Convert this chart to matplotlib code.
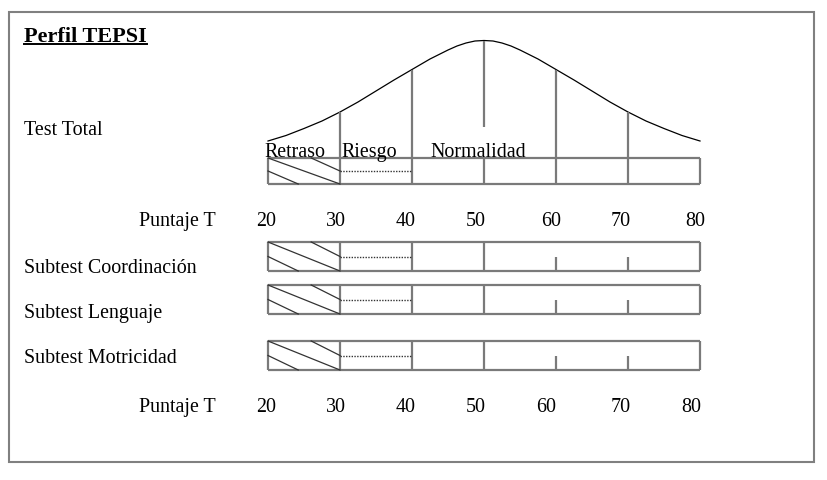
import numpy as np
import matplotlib.pyplot as plt

plt.rcParams['font.family'] = ['Liberation Serif', 'DejaVu Serif']

# puntaje T scale
t_scores = [20, 30, 40, 50, 60, 70, 80]
zone_names = ["Retraso", "Riesgo", "Normalidad"]
zone_label_t = [19.45, 30.15, 42.5]
subtests = ["Subtest Coordinación", "Subtest Lenguaje", "Subtest Motricidad"]

# bell curve (height above the base line, px)
curve_t = [20, 22.5, 25, 27.5, 30, 32.5, 35, 37.5, 40, 42.5, 45, 46.25, 47.5, 48.75, 50,
           51.25, 52.5, 53.75, 55, 57.5, 60, 62.5, 65, 67.5, 70, 72.5, 75, 77.5, 80]
curve_h = [8, 13.5, 20.5, 28, 37, 47, 58, 69, 79.5, 90, 99, 103, 106, 108, 108.5,
           108, 106, 103, 99, 90, 79.5, 69, 58, 47, 37, 28, 20.5, 13.5, 8]

W, H = 827, 481
PX_PER_T = 7.2
X0 = 268  # pixel of T=20


def tx(px):
    return 20 + (px - X0) / PX_PER_T


GRAY = '#7a7a7a'
DARK = '#333333'


def draw_bar(ax, top, bottom, full_lines=True):
    mid = (top + bottom) / 2
    ax.hlines([top, bottom], t_scores[0], t_scores[-1], color=GRAY, lw=1.6)
    for t in t_scores:
        if full_lines or t in (20, 30, 40, 50, 80):
            ax.vlines(t, top, bottom, color=GRAY, lw=1.6)
        else:
            ax.vlines(t, mid, bottom, color=GRAY, lw=1.6)
    # hatching in Retraso cell
    h = bottom - top
    ax.plot([20, 30], [top, bottom], color=DARK, lw=0.9)
    ax.plot([20, 24.2], [top + h / 2, bottom], color=DARK, lw=0.9)
    ax.plot([26.0, 30], [top, top + h / 2], color=DARK, lw=0.9)
    # dotted line in Riesgo cell
    ax.plot([30, 40], [mid, mid], color=DARK, lw=1.0, ls=(0, (1, 1)))


def main():
    fig = plt.figure(figsize=(W / 100, H / 100), dpi=100)
    ax = fig.add_axes([0, 0, 1, 1])
    ax.set_xlim(tx(0), tx(W))
    ax.set_ylim(H, 0)
    ax.axis('off')

    # frame
    ax.add_patch(plt.Rectangle((tx(9), 13), tx(814) - tx(9), 450,
                               fill=False, ec='#808080', lw=1.5))

    title = ax.text(tx(24), 42, "Perfil TEPSI", fontsize=16, fontweight='bold',
                    va='baseline', ha='left')

    ax.text(tx(24), 135, "Test Total", fontsize=14.4, va='baseline')

    # bell curve
    base = 150
    curve_y = [base - h for h in curve_h]
    ax.plot(curve_t, curve_y, color='black', lw=0.9)

    top_bar = (159, 185)
    for t in (30, 40, 60, 70):
        ax.vlines(t, curve_y[curve_t.index(t)], top_bar[0], color=GRAY, lw=1.6)
    ax.vlines(50, curve_y[curve_t.index(50)], 128, color=GRAY, lw=1.6)

    draw_bar(ax, *top_bar, full_lines=True)

    for name, t in zip(zone_names, zone_label_t):
        ax.text(t, 157, name, fontsize=14.4, va='baseline', ha='left')

    # score rows (label nudges in px, as in the original)
    rows = [(226, [-2, -4, -6, -8, -5, -7, -5]),
            (412, [-2, -4, -6, -8, -10, -7, -9])]
    for base_y, nudges in rows:
        ax.text(tx(216), base_y, "Puntaje T", fontsize=14.4, va='baseline', ha='right')
        for t, dx in zip(t_scores, nudges):
            ax.text(t + dx / PX_PER_T, base_y, str(t), fontsize=14.4,
                    va='baseline', ha='center')

    bar_tops = [243, 286, 342]
    label_base = [273, 318, 363]
    for name, top, lb in zip(subtests, bar_tops, label_base):
        ax.text(tx(24), lb, name, fontsize=14.4, va='baseline')
        draw_bar(ax, top, top + 29, full_lines=False)

    # underline the title
    fig.canvas.draw()
    bb = title.get_window_extent()
    inv = ax.transData.inverted()
    x_left = inv.transform((bb.x0, 0))[0]
    x_right = inv.transform((bb.x1, 0))[0]
    ax.plot([x_left, x_right], [45, 45], color='black', lw=1.4)

    fig.savefig("out.png", dpi=100)


if __name__ == "__main__":
    main()
